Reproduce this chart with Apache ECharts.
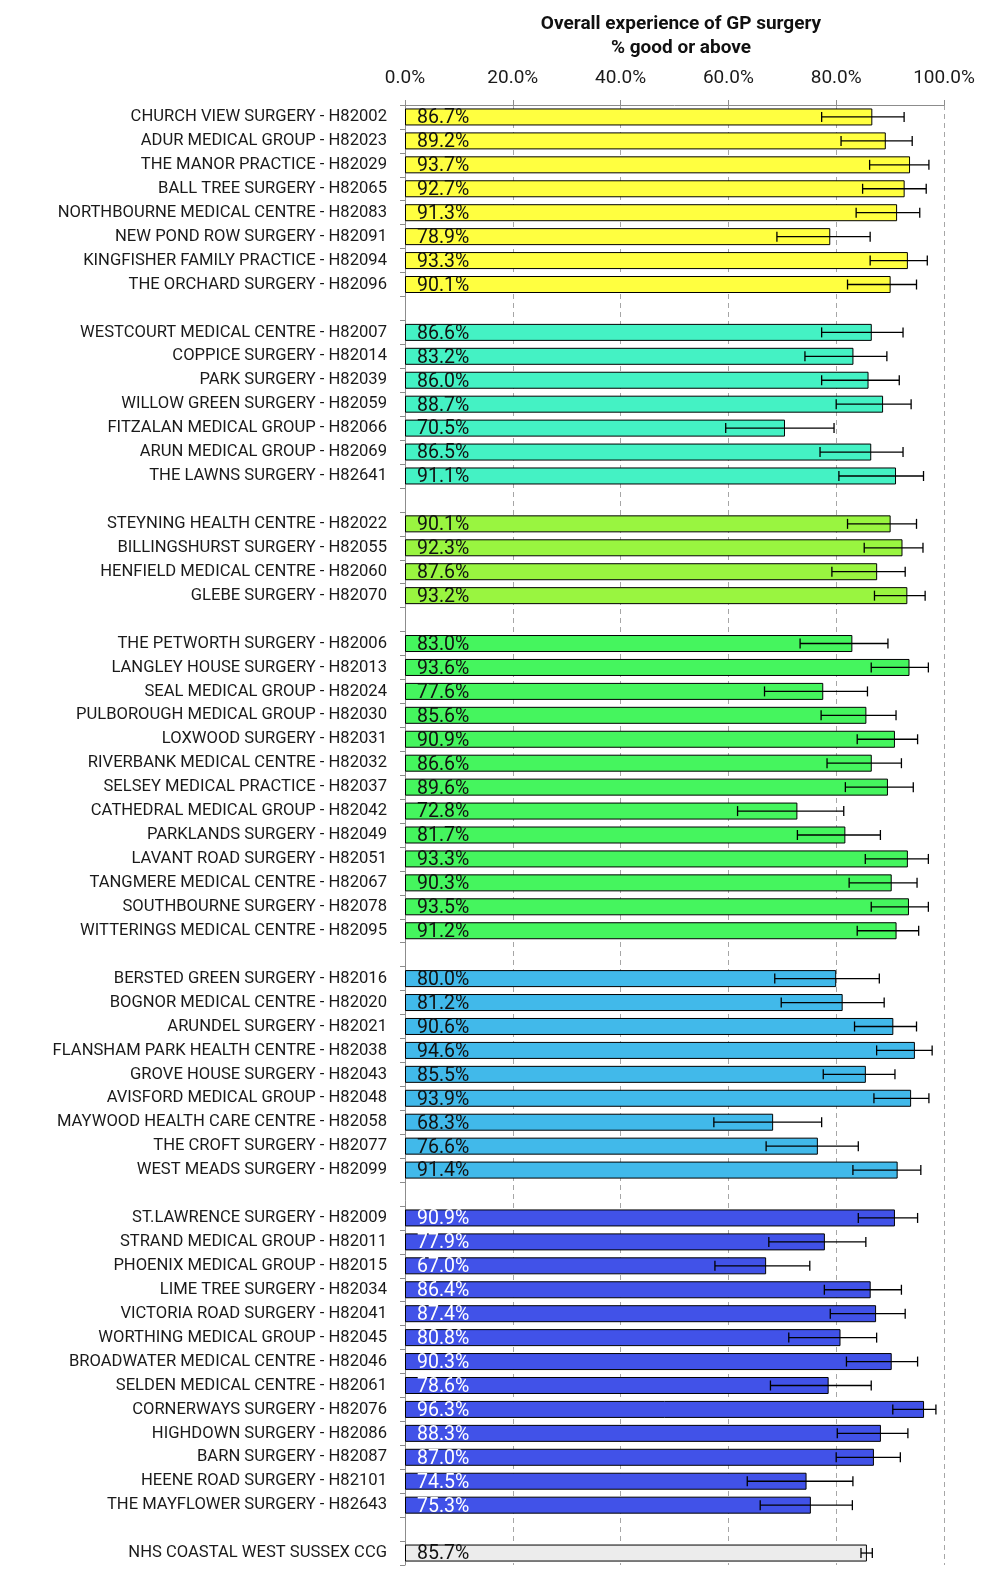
<!DOCTYPE html>
<html><head><meta charset="utf-8">
<script src="https://cdn.jsdelivr.net/npm/echarts@6/dist/echarts.min.js"></script>
<style>html,body{margin:0;padding:0;background:#fff}#c{width:1004px;height:1594px}</style>
</head><body><div id="c"></div>
<script>
const categories = [
'CHURCH VIEW SURGERY - H82002','ADUR MEDICAL GROUP - H82023','THE MANOR PRACTICE - H82029','BALL TREE SURGERY - H82065',
'NORTHBOURNE MEDICAL CENTRE - H82083','NEW POND ROW SURGERY - H82091','KINGFISHER FAMILY PRACTICE - H82094','THE ORCHARD SURGERY - H82096',
'',
'WESTCOURT MEDICAL CENTRE - H82007','COPPICE SURGERY - H82014','PARK SURGERY - H82039','WILLOW GREEN SURGERY - H82059',
'FITZALAN MEDICAL GROUP - H82066','ARUN MEDICAL GROUP - H82069','THE LAWNS SURGERY - H82641',
'',
'STEYNING HEALTH CENTRE - H82022','BILLINGSHURST SURGERY - H82055','HENFIELD MEDICAL CENTRE - H82060','GLEBE SURGERY - H82070',
'',
'THE PETWORTH SURGERY - H82006','LANGLEY HOUSE SURGERY - H82013','SEAL MEDICAL GROUP - H82024','PULBOROUGH MEDICAL GROUP - H82030',
'LOXWOOD SURGERY - H82031','RIVERBANK MEDICAL CENTRE - H82032','SELSEY MEDICAL PRACTICE - H82037','CATHEDRAL MEDICAL GROUP - H82042',
'PARKLANDS SURGERY - H82049','LAVANT ROAD SURGERY - H82051','TANGMERE MEDICAL CENTRE - H82067','SOUTHBOURNE SURGERY - H82078',
'WITTERINGS MEDICAL CENTRE - H82095',
'',
'BERSTED GREEN SURGERY - H82016','BOGNOR MEDICAL CENTRE - H82020','ARUNDEL SURGERY - H82021','FLANSHAM PARK HEALTH CENTRE - H82038',
'GROVE HOUSE SURGERY - H82043','AVISFORD MEDICAL GROUP - H82048','MAYWOOD HEALTH CARE CENTRE - H82058','THE CROFT SURGERY - H82077',
'WEST MEADS SURGERY - H82099',
'',
'ST.LAWRENCE SURGERY - H82009','STRAND MEDICAL GROUP - H82011','PHOENIX MEDICAL GROUP - H82015','LIME TREE SURGERY - H82034',
'VICTORIA ROAD SURGERY - H82041','WORTHING MEDICAL GROUP - H82045','BROADWATER MEDICAL CENTRE - H82046','SELDEN MEDICAL CENTRE - H82061',
'CORNERWAYS SURGERY - H82076','HIGHDOWN SURGERY - H82086','BARN SURGERY - H82087','HEENE ROAD SURGERY - H82101',
'THE MAYFLOWER SURGERY - H82643',
'',
'NHS COASTAL WEST SUSSEX CCG'
];
const values = [
86.7,89.2,93.7,92.7,91.3,78.9,93.3,90.1,
null,
86.6,83.2,86.0,88.7,70.5,86.5,91.1,
null,
90.1,92.3,87.6,93.2,
null,
83.0,93.6,77.6,85.6,90.9,86.6,89.6,72.8,81.7,93.3,90.3,93.5,91.2,
null,
80.0,81.2,90.6,94.6,85.5,93.9,68.3,76.6,91.4,
null,
90.9,77.9,67.0,86.4,87.4,80.8,90.3,78.6,96.3,88.3,87.0,74.5,75.3,
null,
85.7
];
const ciLower = [
77.3,80.9,86.2,84.9,83.7,69.0,86.3,82.1,
null,
77.3,74.2,77.3,80.0,59.5,77.0,80.5,
null,
82.1,85.2,79.2,87.1,
null,
73.3,86.5,66.7,77.2,83.9,78.3,81.7,61.7,72.8,85.4,82.4,86.5,83.9,
null,
68.6,69.8,83.4,87.5,77.6,87.0,57.3,67.0,83.1,
null,
84.1,67.5,57.5,77.8,78.9,71.2,81.9,67.8,90.5,80.2,80.0,63.5,65.9,
null,
84.6
];
const ciUpper = [
92.6,94.1,97.2,96.7,95.5,86.3,96.9,94.9,
null,
92.4,89.4,91.7,93.9,79.6,92.4,96.2,
null,
94.9,96.1,92.8,96.5,
null,
89.6,97.1,85.8,91.1,95.1,92.1,94.3,81.4,88.2,97.1,95.0,97.1,95.3,
null,
88.0,88.9,94.9,97.8,90.9,97.2,77.3,84.1,95.7,
null,
95.1,85.5,75.1,92.1,92.8,87.5,95.1,86.5,98.5,93.3,91.9,83.1,83.0,
null,
86.7
];
const groups = [
0,0,0,0,0,0,0,0,
-1,
1,1,1,1,1,1,1,
-1,
2,2,2,2,
-1,
3,3,3,3,3,3,3,3,3,3,3,3,3,
-1,
4,4,4,4,4,4,4,4,4,
-1,
5,5,5,5,5,5,5,5,5,5,5,5,5,
-1,
6
];
const xTicks = [0, 20, 40, 60, 80, 100];

const palette = ['#FFFF40', '#44F2C4', '#99F540', '#45F55E', '#41B9EA', '#4152E8', '#ECECEC'];
const labelColors = ['#111', '#111', '#111', '#111', '#111', '#fff', '#111'];
const FONT = 'Roboto';

const chart = echarts.init(document.getElementById('c'), null, {renderer: 'canvas'});

const barData = values.map((v, i) => v == null ? null : {
  value: v,
  itemStyle: {color: palette[groups[i]]},
  label: {color: labelColors[groups[i]]}
});
const errData = [];
values.forEach((v, i) => { if (v != null) errData.push([i, ciLower[i], ciUpper[i]]); });

chart.setOption({
  animation: false,
  backgroundColor: '#fff',
  title: {
    text: 'Overall experience of GP surgery\n% good or above',
    left: 676, top: 7, textAlign: 'center',
    textStyle: {fontFamily: FONT, fontWeight: 'bold', fontSize: 19, lineHeight: 24, color: '#111'}
  },
  grid: {left: 405, right: 60, top: 105, bottom: 29, containLabel: false},
  xAxis: {
    type: 'value', position: 'top', min: xTicks[0], max: xTicks[xTicks.length - 1], interval: 20,
    axisLine: {show: true, lineStyle: {color: '#8c8c8c', width: 1}},
    axisTick: {show: true, length: 5, lineStyle: {color: '#8c8c8c'}},
    axisLabel: {formatter: v => v.toFixed(1) + '%', fontFamily: FONT, fontSize: 19, color: '#1a1a1a', margin: 17},
    splitLine: {show: true, lineStyle: {color: '#a6a6a6', type: [5, 4], width: 1}}
  },
  yAxis: {
    type: 'category', data: categories, inverse: true,
    axisLine: {show: true, lineStyle: {color: '#8c8c8c', width: 1}},
    axisTick: {show: true, length: 5, interval: 0, lineStyle: {color: '#8c8c8c'}},
    axisLabel: {interval: 0, fontFamily: FONT, fontSize: 16.6, color: '#1a1a1a', margin: 18},
    splitLine: {show: false}
  },
  series: [
    {
      type: 'bar', data: barData, barWidth: 17,
      itemStyle: {borderColor: '#000', borderWidth: 1},
      label: {
        show: true, position: 'insideLeft', distance: 12, offset: [0, 1.5],
        formatter: p => p.value.toFixed(1) + '%',
        fontFamily: FONT, fontSize: 19.5
      },
      z: 2
    },
    {
      type: 'custom', data: errData, z: 5,
      encode: {x: [1, 2], y: 0},
      renderItem: (params, api) => {
        const i = api.value(0);
        const a = api.coord([api.value(1), i]);
        const b = api.coord([api.value(2), i]);
        const h = 5;
        const st = {stroke: '#000', lineWidth: 1.3};
        return {
          type: 'group',
          children: [
            {type: 'line', shape: {x1: a[0], y1: a[1], x2: b[0], y2: b[1]}, style: st},
            {type: 'line', shape: {x1: a[0], y1: a[1] - h, x2: a[0], y2: a[1] + h}, style: st},
            {type: 'line', shape: {x1: b[0], y1: b[1] - h, x2: b[0], y2: b[1] + h}, style: st}
          ]
        };
      }
    }
  ]
});
</script>
</body></html>
